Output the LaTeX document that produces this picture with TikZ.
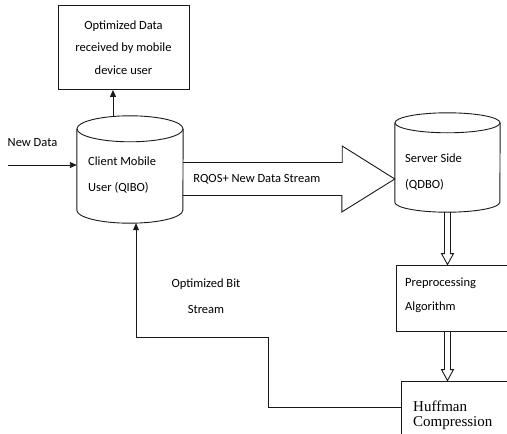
\documentclass[tikz,border=0pt]{standalone}
\usepackage{fontspec}
\setmainfont{Carlito}
\newfontfamily\huffface{Liberation Serif}
\usetikzlibrary{arrows.meta}

\tikzset{
  line/.style={draw=black!90, line width=0.9pt},
  tip/.style={line, -{Triangle[length=7pt,width=6pt]}},
  box/.style={line, rectangle, inner sep=0pt},
  dbnode/.style={rectangle, inner sep=0pt},
  lbl/.style={inner sep=0pt, align=left, font=\fontsize{12.5}{26}\selectfont},
}

\begin{document}
\begin{tikzpicture}[x=1pt,y=-1pt]
\useasboundingbox (0,0) rectangle (507,434);
\clip (0,0) rectangle (507,434);
% client side
\node[box, minimum width=131pt, minimum height=84pt, align=center,
  font=\fontsize{12.5}{22.5}\selectfont] (optdata) at (123.5,47.5) {Optimized Data\\received by mobile\\device user};
\node[dbnode, minimum width=106pt, minimum height=107pt] (client) at (130,169.5) {};
\draw[line] ([yshift=-13pt]client.north west) -- ([yshift=13pt]client.south west)
  arc[start angle=180, end angle=360, x radius=53pt, y radius=13pt] -- ([yshift=-13pt]client.north east);
\draw[line] ([yshift=-13pt]client.north) ellipse[x radius=53pt, y radius=13pt];
\node[lbl, anchor=west] (clienttxt) at (88,175) {Client Mobile\\User (QIBO)};
\coordinate (newin) at (8,165);
\node[lbl] (newdata) at (32.5,143) {New Data};
\draw[tip] (newin) -- (client.west |- newin);
\coordinate (up) at ([xshift=-17pt]client.north);
\draw[tip] (up) -- (up |- optdata.south);
% server side
\node[dbnode, minimum width=105pt, minimum height=99pt] (server) at (447.5,162.5) {};
\draw[line] ([yshift=-10pt]server.north west) -- ([yshift=10pt]server.south west)
  arc[start angle=180, end angle=360, x radius=52.5pt, y radius=10pt] -- ([yshift=-10pt]server.north east);
\draw[line] ([yshift=-10pt]server.north) ellipse[x radius=52.5pt, y radius=10pt];
\node[lbl, anchor=west] (servertxt) at (405,172) {Server Side\\(QDBO)};
% big stream arrow
\coordinate (tip) at ([yshift=-16.5pt]server.west);
\coordinate (shaft) at (client.east |- tip);
\draw[line] (shaft) ++(0,-16.5) -- ++(159,0) -- ++(0,-16.5) -- (tip) -- ++(-53,33) -- ++(0,-16.5) -- ++(-159,0);
\node[lbl, anchor=west] (rqos) at ([xshift=10pt]shaft) {RQOS+ New Data Stream};
% processing chain
\node[box, minimum width=130pt, minimum height=66pt] (prep) at (461,298) {};
\node[lbl, anchor=west, font=\fontsize{12.5}{24}\selectfont] (preptxt) at (405,295) {Preprocessing\\Algorithm};
\node[box, minimum width=130pt, minimum height=80pt] (huff) at (466,421) {};
\node[anchor=west, inner sep=0pt, align=left, font=\huffface\fontsize{15}{15}\selectfont] (hufftxt) at (413,415) {Huffman\\Compression};
\coordinate (a1) at (server.south);
\coordinate (a2) at (server.south |- prep.north);
\draw[line] ([xshift=-3pt]a1) -- ([xshift=-3pt,yshift=11pt]a2) -- ([xshift=-6pt,yshift=11pt]a2) -- (a2)
  -- ([xshift=6pt,yshift=11pt]a2) -- ([xshift=3pt,yshift=11pt]a2) -- ([xshift=3pt]a1);
\coordinate (a3) at (server.south |- prep.south);
\coordinate (a4) at (server.south |- huff.north);
\draw[line] ([xshift=-3pt]a3) -- ([xshift=-3pt,yshift=11pt]a4) -- ([xshift=-6pt,yshift=11pt]a4) -- (a4)
  -- ([xshift=6pt,yshift=11pt]a4) -- ([xshift=3pt,yshift=11pt]a4) -- ([xshift=3pt]a3);
% feedback
\coordinate (bend) at (268,337);
\draw[tip] ([yshift=14pt]huff.west) -| (bend) -| ([xshift=6pt]client.south);
\node[lbl, align=center] (bitstream) at (206,296) {Optimized Bit\\Stream};
\end{tikzpicture}
\end{document}
